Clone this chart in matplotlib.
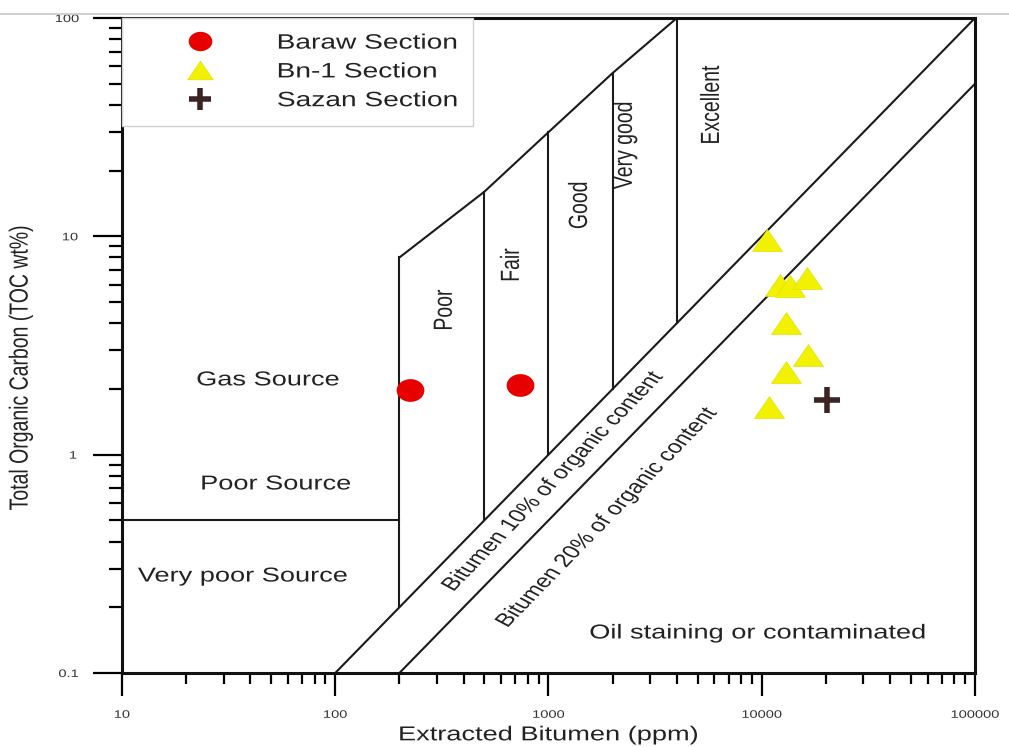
import numpy as np
import matplotlib
matplotlib.use("Agg")
import matplotlib.pyplot as plt
from matplotlib.lines import Line2D
from matplotlib.patheffects import AbstractPathEffect
from matplotlib.transforms import Affine2D

plt.rcParams['font.family'] = ['Liberation Sans', 'DejaVu Sans']

# sample data (bitumen ppm, TOC wt%)
baraw_bit = [225, 735]
baraw_toc = [1.98, 2.09]

bn1_bit = [10550, 12200, 13600, 16300, 13000, 16500, 13000, 10800]
bn1_toc = [9.6, 6.0, 5.9, 6.45, 4.0, 2.86, 2.4, 1.65]

sazan_bit = [20200]
sazan_toc = [1.78]

# classification frame
upper_bit = [200, 500, 1000, 2000, 4000]
upper_toc = [8, 16, 30, 56, 100]
zone_names = ["Poor", "Fair", "Good", "Very good", "Excellent"]
zone_label_bit = [327, 674, 1405, 2300, 5845]
zone_label_toc = [4.6, 7.4, 13.9, 26.2, 40]

line10_bit = [100, 100000]
line10_toc = [0.1, 100]
line20_bit = [200, 100000]
line20_toc = [0.1, 50]
poor_limit_toc = 0.5

x_ticks = [10, 100, 1000, 10000, 100000]
x_tick_labels = ["10", "100", "1000", "10000", "100000"]
y_ticks = [0.1, 1, 10, 100]
y_tick_labels = ["0.1", "1", "10", "100"]

SX = 1.35  # the source figure is stretched sideways
txt = '#222222'


class HStretch(AbstractPathEffect):
    """widen drawn text horizontally on screen (about its centre or left edge)"""

    def __init__(self, sx=SX, anchor='center'):
        super().__init__()
        self.sx = sx
        self.anchor = anchor

    def draw_path(self, renderer, gc, tpath, affine, rgbFace=None):
        bb = tpath.get_extents(affine)
        x0 = bb.x0 if self.anchor == 'left' else 0.5 * (bb.x0 + bb.x1)
        tr = affine + Affine2D().translate(-x0, 0).scale(self.sx, 1).translate(x0, 0)
        renderer.draw_path(gc, tpath, tr, rgbFace)


def stretched(t, anchor='center'):
    t.set_path_effects([HStretch(anchor=anchor)])
    return t


fig = plt.figure(figsize=(10.09, 7.47), dpi=100)
ax = fig.add_axes([0.1209, 0.0991, 0.8454, 0.8768])
ax.set_xscale('log')
ax.set_yscale('log')
ax.set_xlim(10, 100000)
ax.set_ylim(0.1, 100)

lw = 1.5
lc = '#1a1a1a'
ax.plot(line10_bit, line10_toc, color=lc, lw=lw)
ax.plot(line20_bit, line20_toc, color=lc, lw=lw)
ax.plot(upper_bit, upper_toc, color=lc, lw=lw)
# vertical dividers from the 10% line up to the upper boundary
for b, t in zip(upper_bit, upper_toc):
    ax.plot([b, b], [b / 1000.0, t], color=lc, lw=lw)
ax.plot([10, upper_bit[0]], [poor_limit_toc, poor_limit_toc], color=lc, lw=lw)

for name, b, t in zip(zone_names, zone_label_bit, zone_label_toc):
    stretched(ax.text(b, t, name, rotation=90, ha='center', va='center',
                      fontsize=14, color=txt))

stretched(ax.text(48.4, 2.2, "Gas Source", ha='center', va='center',
                  fontsize=14.5, color=txt))
stretched(ax.text(52.7, 0.734, "Poor Source", ha='center', va='center',
                  fontsize=14.5, color=txt))
stretched(ax.text(36.9, 0.278, "Very poor Source", ha='center', va='center',
                  fontsize=14.5, color=txt))
stretched(ax.text(9600, 0.1525, "Oil staining or contaminated", ha='center',
                  va='center', fontsize=14.5, color=txt))

# angle of the 1:1 lines on screen, pre-corrected for the sideways stretch
p1 = ax.transData.transform((100, 0.1))
p2 = ax.transData.transform((100000, 100))
ang = np.degrees(np.arctan(SX * (p2[1] - p1[1]) / (p2[0] - p1[0])))
stretched(ax.text(1050, 0.75, "Bitumen 10% of organic content", rotation=ang,
                  ha='center', va='center', rotation_mode='anchor',
                  fontsize=13.5, color=txt))
stretched(ax.text(1881, 0.513, "Bitumen 20% of organic content", rotation=ang,
                  ha='center', va='center', rotation_mode='anchor',
                  fontsize=13.5, color=txt))

# slightly flattened marker shapes like the source
th = np.linspace(0, 2 * np.pi, 40)
ellipse = np.column_stack([np.cos(th), 0.82 * np.sin(th)])
wide_tri = [(0, 0.73), (-1, -0.73), (1, -0.73), (0, 0.73)]

ax.plot(baraw_bit, baraw_toc, ls='none', marker=ellipse, ms=20, color='#e60000',
        mec='none', label='Baraw Section', zorder=5)
ax.plot(bn1_bit, bn1_toc, ls='none', marker=wide_tri, ms=21.5, color='#f2f200',
        mec='#e0e000', mew=0.5, label='Bn-1 Section', zorder=5)
ax.plot(sazan_bit, sazan_toc, '+', ms=19, color='#3d2424', mew=4,
        label='Sazan Section', zorder=5)

leg = ax.legend(loc='upper left', bbox_to_anchor=(0, 1 - 0.1634, 0.4115, 0.1634),
                mode='expand', borderaxespad=0, fontsize=15, frameon=True,
                fancybox=False, framealpha=1, edgecolor='#d0d0d0',
                handlelength=6.0, handletextpad=0.7, borderpad=0.75,
                labelspacing=0.47, numpoints=1, markerscale=0.85)
leg.get_frame().set_linewidth(1.0)
for t in leg.get_texts():
    t.set_color(txt)
    stretched(t, anchor='left')

ax.set_xticks(x_ticks)
ax.set_xticklabels(x_tick_labels)
ax.set_yticks(y_ticks)
ax.set_yticklabels(y_tick_labels)
ax.tick_params(axis='x', which='major', length=16.5, width=1.6, pad=10,
               labelsize=7.8, labelcolor='#333333', direction='out')
ax.tick_params(axis='x', which='minor', length=8, width=1.6, direction='out')
ax.tick_params(axis='y', which='major', length=21, width=1.6, pad=12,
               labelsize=7.8, labelcolor='#333333', direction='out')
ax.tick_params(axis='y', which='minor', length=9.5, width=1.6, direction='out')
ax.yaxis.set_minor_formatter(plt.NullFormatter())
ax.xaxis.set_minor_formatter(plt.NullFormatter())
for lab in ax.get_xticklabels() + ax.get_yticklabels():
    stretched(lab)

for s in ax.spines.values():
    s.set_linewidth(2.2)
    s.set_color('#111111')

stretched(ax.set_xlabel("Extracted Bitumen (ppm)", fontsize=14.5, color=txt,
                        labelpad=4))
stretched(ax.set_ylabel("Total Organic Carbon (TOC wt%)", fontsize=14, color=txt))
ax.yaxis.set_label_coords(-0.108, 0.467)

# thin grey rule along the top edge of the image
fig.add_artist(Line2D([0, 1], [0.981, 0.981], transform=fig.transFigure,
                      color='#c8c8c8', lw=1.2))

fig.savefig("out.png", dpi=100)
